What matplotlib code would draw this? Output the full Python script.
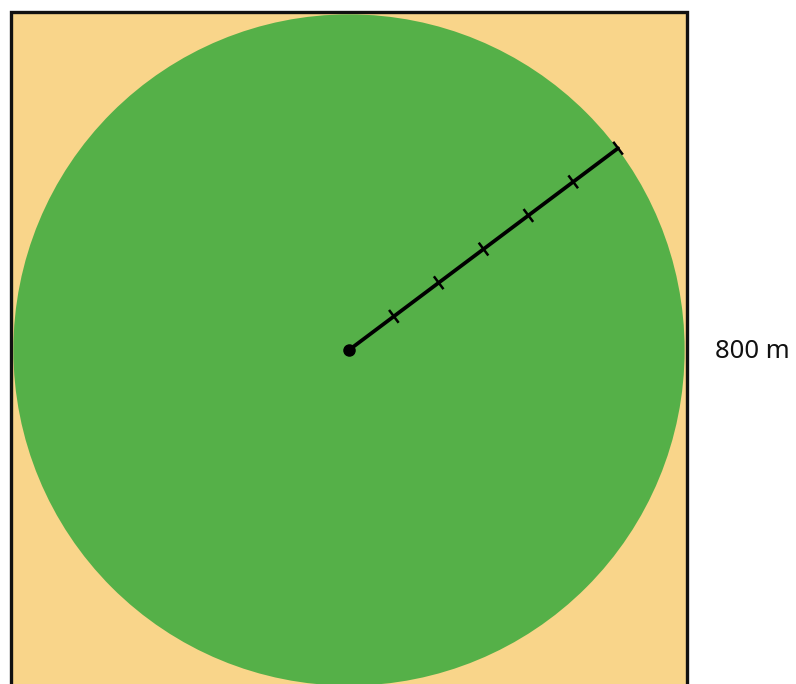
import numpy as np
import matplotlib
matplotlib.use("Agg")
import matplotlib.pyplot as plt
from matplotlib.patches import Rectangle, Circle

# data (meters)
side = 800
radius = 400
angle_deg = 36.87
n_divisions = 6
label = "800 m"

fig = plt.figure(figsize=(7.96, 6.84), dpi=100)
ax = fig.add_axes([0, 0, 1, 1])
scale = 0.845  # px per meter
cx, cy = 349, 350
ax.set_xlim(-cx / scale, (796 - cx) / scale)
ax.set_ylim(-(684 - cy) / scale, cy / scale)
ax.set_aspect('equal')
ax.axis('off')

ax.add_patch(Rectangle((-side / 2, -side / 2), side, side, facecolor='#F9D58A',
                       edgecolor='#111111', linewidth=2.4, zorder=1))
ax.add_patch(Circle((0, 0), radius * 0.993, facecolor='#55B048', edgecolor='none', zorder=2))

th = np.deg2rad(angle_deg)
ux, uy = np.cos(th), np.sin(th)
ax.plot([0, radius * ux * 0.995], [0, radius * uy * 0.995], color='black', lw=2.7,
        solid_capstyle='round', zorder=3)
ax.plot([0], [0], 'o', color='black', ms=8, zorder=4)
half = 8
for k in range(1, n_divisions + 1):
    r = radius * 0.995 * k / n_divisions
    px, py = r * ux, r * uy
    ax.plot([px + half * uy, px - half * uy], [py - half * ux, py + half * ux],
            color='black', lw=1.8, zorder=3)

ax.text((752 - cx) / scale, -1 / scale, label, fontsize=18.5, family=['Noto Sans', 'DejaVu Sans'],
        ha='center', va='center', color='#111111')

fig.savefig('out.png', dpi=100)
